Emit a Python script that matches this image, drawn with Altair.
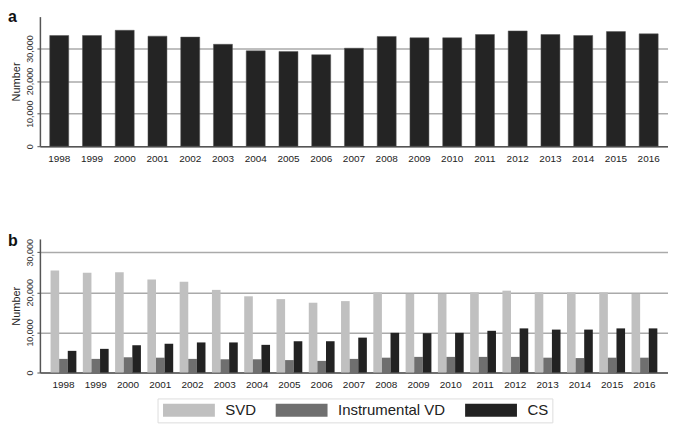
import altair as alt
import pandas as pd

years = [str(y) for y in range(1998, 2017)]

# Panel a: total number per year
total = [34000, 34000, 35600, 33800, 33500, 31300, 29300, 29100, 28100, 30100,
         33700, 33300, 33300, 34300, 35400, 34300, 34000, 35200, 34500]

# Panel b: series per year
series_names = ["SVD", "Instrumental VD", "CS"]
svd = [25400, 24900, 25000, 23200, 22600, 20600, 19000, 18300, 17400, 17800,
       20000, 19600, 19600, 20000, 20400, 20000, 20000, 20000, 19600]
ivd = [3400, 3400, 3800, 3700, 3400, 3300, 3300, 3100, 2900, 3400,
       3700, 3900, 3900, 3900, 3900, 3700, 3600, 3700, 3700]
cs = [5400, 5900, 6800, 7200, 7500, 7500, 6900, 7800, 7800, 8700,
      9900, 9800, 9900, 10400, 11000, 10700, 10700, 11000, 11000]
series_colors = ["#c0c0c0", "#6f6f6f", "#222222"]

df_a = pd.DataFrame({"year": years, "total": total})
df_b = pd.DataFrame({
    "year": years * 3,
    "series": [series_names[0]] * len(years) + [series_names[1]] * len(years) + [series_names[2]] * len(years),
    "value": svd + ivd + cs,
})

FONT = "Liberation Sans"
W = 630

def y_axis():
    return alt.Axis(
        title="Number", values=[0, 10000, 20000, 30000], format=",.0f",
        labelAngle=270, labelFontSize=9, labelColor="#333333",
        titleFontSize=11, titleFontWeight="normal", titleColor="#222222",
        titlePadding=4, grid=True, gridColor="#aaaaaa", gridWidth=1.5,
        domainColor="#555555", domainWidth=1.5, tickColor="#555555", tickSize=3,
        labelPadding=2,
    )

def x_axis():
    return alt.Axis(
        title=None, labelAngle=0, labelFontSize=10, labelColor="#222222",
        ticks=False, labelPadding=7, domainColor="#555555", domainWidth=1.5,
    )

bars_a = alt.Chart(df_a).mark_bar(color="#242424", stroke="#555555", strokeWidth=0.5).encode(
    x=alt.X("year:N", axis=x_axis(), scale=alt.Scale(paddingInner=0.42, paddingOuter=0.3)),
    y=alt.Y("total:Q", axis=y_axis(), scale=alt.Scale(domain=[0, 39800], nice=False)),
)
label_a = alt.Chart(pd.DataFrame({"t": ["a"]})).mark_text(
    align="left", baseline="top", font=FONT, fontSize=16, fontWeight="bold", color="#111111"
).encode(text="t:N", x=alt.value(-32), y=alt.value(-8))
panel_a = alt.layer(bars_a, label_a).properties(width=W, height=130)

bars_b = alt.Chart(df_b).mark_bar().encode(
    x=alt.X("year:N", axis=x_axis(), scale=alt.Scale(paddingInner=0.2, paddingOuter=0.33)),
    xOffset=alt.XOffset("series:N", sort=series_names, scale=alt.Scale(paddingInner=0)),
    y=alt.Y("value:Q", axis=y_axis(), scale=alt.Scale(domain=[0, 33300], nice=False)),
    color=alt.Color(
        "series:N",
        sort=series_names,
        scale=alt.Scale(domain=series_names, range=series_colors),
        legend=alt.Legend(
            title=None, orient="none", legendX=118, legendY=383, direction="horizontal",
            symbolType="M-4,-1H4V1H-4Z", symbolSize=169, symbolStrokeWidth=0,
            symbolOffset=20, symbolOpacity=1, labelFontSize=15, labelColor="#222222",
            labelOffset=29, columnPadding=18, strokeColor="#dddddd", padding=4,
            fillColor="#ffffff",
        ),
    ),
)
label_b = alt.Chart(pd.DataFrame({"t": ["b"]})).mark_text(
    align="left", baseline="top", font=FONT, fontSize=16, fontWeight="bold", color="#111111"
).encode(text="t:N", x=alt.value(-32), y=alt.value(-6))
panel_b = alt.layer(bars_b, label_b).properties(width=W, height=134)

chart = alt.vconcat(panel_a, panel_b, spacing=70).properties(padding=0).configure(
    font=FONT
).configure_view(stroke=None)

chart.save("out.html", embed_options={"renderer": "svg", "actions": False})
